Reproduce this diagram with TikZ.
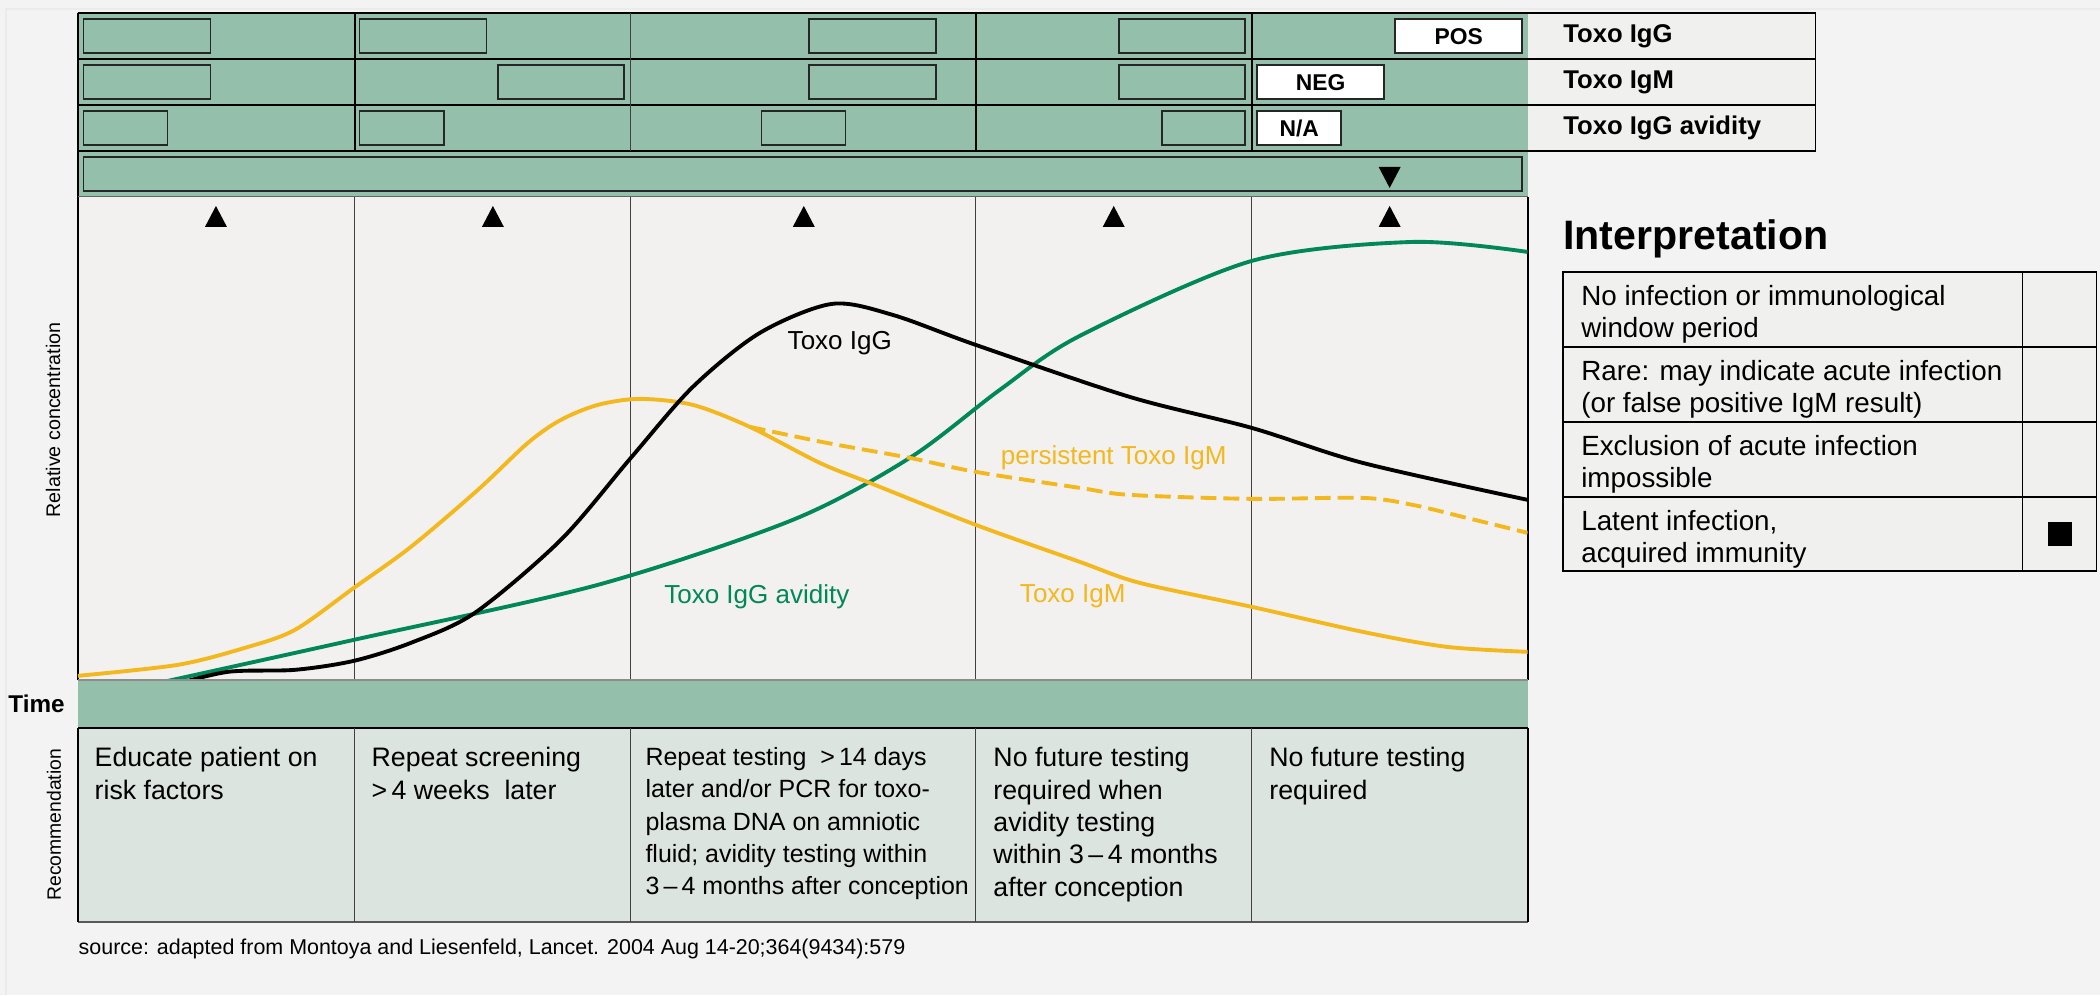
\documentclass[tikz,border=0pt]{standalone}
\usepackage{fontspec}
\setmainfont{Liberation Sans}
\usepackage{tikz}

\definecolor{pagegrey}{RGB}{243,243,244}
\definecolor{bandgreen}{RGB}{148,191,170}
\definecolor{chartgrey}{RGB}{242,241,239}
\definecolor{recgreen}{RGB}{220,228,223}
\definecolor{labelgrey}{RGB}{240,240,239}
\definecolor{avidgreen}{RGB}{0,135,90}
\definecolor{igmyellow}{RGB}{242,184,30}

\begin{document}
\begin{tikzpicture}[x=0.01cm,y=-0.01cm,
  rule/.style={line width=0.5pt},
  thinrule/.style={line width=0.3pt,black!75},
  emptybox/.style={draw=black!85,line width=0.45pt},
  result/.style={draw=black!85,line width=0.45pt,fill=white,inner sep=0pt,minimum height=0.34cm,font=\bfseries\fontsize{6.5}{7}\selectfont},
  rowlabel/.style={anchor=west,inner sep=0pt,font=\bfseries\fontsize{7.3}{8}\selectfont},
  rectext/.style={anchor=north west,inner sep=0pt,align=left,font=\fontsize{7.6}{9.2}\selectfont},
  inttext/.style={anchor=north west,inner sep=0pt,align=left,font=\fontsize{7.9}{9}\selectfont},
  curvelabel/.style={anchor=base,inner sep=0pt,font=\fontsize{7.4}{8}\selectfont},
  curve/.style={line width=1.1pt,smooth}]

% page
\fill[pagegrey] (0,0) rectangle (2100,995);
\draw[black!8,line width=0.3pt] (6,995) -- (6,9) -- (2100,9);

% test rows
\fill[bandgreen] (78,13) rectangle (1528,197);
\fill[labelgrey] (1528,13) rectangle (1816,151);
\draw[rule] (78,13) -- (1816,13);
\draw[rule] (78,59) -- (1816,59);
\draw[rule] (78,105) -- (1816,105);
\draw[rule] (78,151) -- (1816,151);
\draw[rule] (1816,13) -- (1816,151);
\draw[rule] (78,13) -- (78,197);
\draw[rule] (355,13) -- (355,151);
\draw[thinrule] (631,13) -- (631,151);
\draw[rule] (976,13) -- (976,151);
\draw[rule] (1252,13) -- (1252,151);
\draw[black!60,line width=0.5pt] (78,197) -- (1528,197);

% empty result boxes
\draw[emptybox] (83.5,19) rectangle (210.5,53.3);
\draw[emptybox] (359.7,19) rectangle (486.6,53.3);
\draw[emptybox] (809.3,19) rectangle (936.2,53.3);
\draw[emptybox] (1119,19) rectangle (1245.5,53.3);
\draw[emptybox] (83.5,65.3) rectangle (210.5,99.3);
\draw[emptybox] (498,65.3) rectangle (624.4,99.3);
\draw[emptybox] (809.3,65.3) rectangle (936.2,99.3);
\draw[emptybox] (1119,65.3) rectangle (1245.5,99.3);
\draw[emptybox] (83.5,111) rectangle (167.7,145.3);
\draw[emptybox] (359.7,111) rectangle (443.9,145.3);
\draw[emptybox] (761.5,111) rectangle (845.7,145.3);
\draw[emptybox] (1162,111) rectangle (1245.5,145.3);
\draw[emptybox] (83.5,157) rectangle (1522.6,191);

% results
\node[result,minimum width=1.27cm] (pos) at (1459,36.2) {POS};
\node[result,minimum width=1.27cm] (neg) at (1321,82.3) {NEG};
\node[result,minimum width=0.84cm] (na) at (1299.5,128.2) {N/A};

\node[rowlabel] (lblIgG) at (1563,36) {Toxo IgG};
\node[rowlabel] (lblIgM) at (1563,82) {Toxo IgM};
\node[rowlabel] (lblAvid) at (1563,128) {Toxo IgG avidity};

% chart
\fill[chartgrey] (78,197.5) rectangle (1528,680);
\draw[rule] (78,197) -- (78,680);
\draw[rule] (1528,197) -- (1528,680);
\draw[thinrule] (355,197) -- (355,680);
\draw[thinrule] (631,197) -- (631,680);
\draw[thinrule] (976,197) -- (976,680);
\draw[thinrule] (1252,197) -- (1252,680);

% markers
\fill (1379,167) -- (1401,167) -- (1390,188) -- cycle;
\fill (205,227) -- (227,227) -- (216,206) -- cycle;
\fill (482,227) -- (504,227) -- (493,206) -- cycle;
\fill (793,227) -- (815,227) -- (804,206) -- cycle;
\fill (1103,227) -- (1125,227) -- (1114,206) -- cycle;
\fill (1379,227) -- (1401,227) -- (1390,206) -- cycle;

\begin{scope}
\clip (78,197) rectangle (1528,680);
\draw[curve,avidgreen] plot coordinates {(150,685) (354,640) (598,585) (793,520) (910,458) (1000,390) (1080,336) (1252,261) (1413,242) (1528,252)};
\draw[curve,igmyellow] plot coordinates {(78,676) (178,665) (245,648) (295,630) (354,588) (411,547) (478,490) (528,443) (561,420) (598,405) (640,399) (693,405) (750,427) (820,463) (870,483) (976,525) (1080,562) (1140,583) (1252,607) (1363,632) (1447,647) (1528,652)};
\draw[curve,igmyellow,dash pattern=on 4.5pt off 2pt] plot coordinates {(750,427) (827,443) (910,458) (976,472) (1080,488) (1130,495) (1252,499) (1363,498) (1413,505) (1463,517) (1528,533)};
\draw[curve] plot coordinates {(170,686) (228,672) (295,670) (354,661) (411,643) (475,613) (561,540) (631,458) (693,387) (760,333) (832,304) (893,315) (976,345) (1130,397) (1252,428) (1363,463) (1528,500)};
\end{scope}

\node[curvelabel] (curveIgG) at (840,350) {Toxo IgG};
\node[curvelabel,text=avidgreen] (curveAvid) at (757,604) {Toxo IgG avidity};
\node[curvelabel,text=igmyellow] (curvePersist) at (1114,465) {persistent Toxo IgM};
\node[curvelabel,text=igmyellow] (curveIgM) at (1073,603) {Toxo IgM};

\node[rotate=90,inner sep=0pt,font=\fontsize{5.6}{6}\selectfont] (relconc) at (53,420) {Relative concentration};

% time band
\fill[bandgreen] (78,680) rectangle (1528,728);
\draw[black!45,line width=0.4pt] (78,680) -- (1528,680);
\node[anchor=base,inner sep=0pt,font=\bfseries\fontsize{6.9}{7}\selectfont] (timelbl) at (36.5,713) {Time};

% recommendations
\fill[recgreen] (78,728) rectangle (1528,922);
\draw[rule] (78,728) -- (1528,728);
\draw[black!65,line width=0.5pt] (78,922) -- (1528,922);
\draw[rule] (78,728) -- (78,922);
\draw[rule] (1528,728) -- (1528,922);
\draw[thinrule] (355,728) -- (355,922);
\draw[thinrule] (631,728) -- (631,922);
\draw[thinrule] (976,728) -- (976,922);
\draw[thinrule] (1252,728) -- (1252,922);

\node[rotate=90,inner sep=0pt,font=\fontsize{5.5}{6}\selectfont] (recom) at (54,825) {Recommendation};

\node[rectext] (rec1) at (94,747) {Educate patient on\\risk factors};
\node[rectext] (rec2) at (371,747) {Repeat screening\\>\,4 weeks\ \ later};
\node[rectext,font=\fontsize{7.1}{9.2}\selectfont] (rec3) at (645,747) {Repeat testing\ \ >\,14 days\\later and/or PCR for toxo-\\plasma DNA on amniotic\\fluid; avidity testing within\\3\,--\,4 months after conception};
\node[rectext] (rec4) at (993,747) {No future testing\\required when\\avidity testing\\within 3\,--\,4 months\\after conception};
\node[rectext] (rec5) at (1269,747) {No future testing\\required};

\node[anchor=base west,inner sep=0pt,font=\fontsize{6.1}{7}\selectfont] (src) at (78,955) {source: adapted from Montoya and Liesenfeld, Lancet. 2004 Aug 14-20;364(9434):579};

% interpretation
\node[anchor=base west,inner sep=0pt,font=\bfseries\fontsize{11.7}{13}\selectfont] (interp) at (1563,250) {Interpretation};
\fill[labelgrey] (1563,272) rectangle (2097,571);
\draw[rule] (1563,272) rectangle (2097,571);
\draw[rule] (2023,272) -- (2023,571);
\draw[rule] (1563,347) -- (2097,347);
\draw[rule] (1563,422) -- (2097,422);
\draw[rule] (1563,497) -- (2097,497);
\node[inttext] (int1) at (1581,285) {No infection or immunological\\window period};
\node[inttext] (int2) at (1581,360) {Rare: may indicate acute infection\\(or false positive IgM result)};
\node[inttext] (int3) at (1581,435) {Exclusion of acute infection\\impossible};
\node[inttext] (int4) at (1581,510) {Latent infection,\\acquired immunity};
\fill (2048,522) rectangle (2072,546);

\end{tikzpicture}
\end{document}
